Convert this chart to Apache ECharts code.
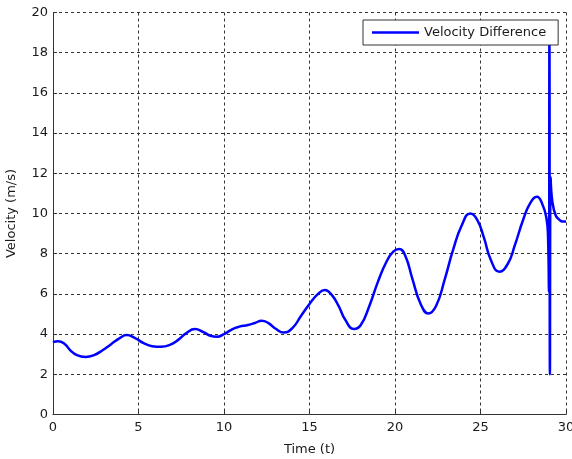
<!DOCTYPE html>
<html>
<head>
<meta charset="utf-8">
<script src="https://cdn.jsdelivr.net/npm/echarts@6/dist/echarts.min.js"></script>
<style>
html,body{margin:0;padding:0;background:#fff;}
#c{width:572px;height:459px;}
</style>
</head>
<body>
<div id="c"></div>
<script>
const seriesName = 'Velocity Difference';
const xTitle = 'Time (t)';
const yTitle = 'Velocity (m/s)';
const timeValues = [0,0.3,0.7,1.0,1.4,1.9,2.4,2.9,3.4,3.9,4.3,4.8,5.3,5.8,6.3,6.8,7.3,7.8,8.3,8.8,9.2,9.6,10.0,10.5,10.9,11.4,11.8,12.2,12.6,13.0,13.5,14.0,14.5,15.0,15.5,15.9,16.3,16.7,17.1,17.6,18.0,18.5,19.0,19.5,19.9,20.25,20.6,21.0,21.5,21.95,22.4,22.9,23.4,23.9,24.4,24.8,25.2,25.6,26.1,26.6,27.0,27.5,27.9,28.3,28.6,28.85,28.95,29.0,29.03,29.06,29.1,29.2,29.4,29.6,29.8,30];
const velocityValues = [3.6,3.65,3.5,3.2,2.95,2.86,2.95,3.2,3.5,3.8,3.95,3.8,3.55,3.4,3.37,3.45,3.7,4.05,4.25,4.1,3.92,3.87,4.0,4.25,4.37,4.45,4.55,4.67,4.55,4.28,4.08,4.3,4.9,5.5,6.0,6.2,5.95,5.4,4.7,4.25,4.45,5.4,6.6,7.6,8.1,8.23,7.9,6.8,5.5,5.03,5.4,6.7,8.2,9.4,10.0,9.7,8.8,7.7,7.1,7.5,8.4,9.7,10.5,10.83,10.5,9.8,8.8,6.1,19.5,2.0,11.8,10.6,9.9,9.7,9.6,9.6];
const xTicks = {min:0, max:30, interval:5};
const yTicks = {min:0, max:20, interval:2};

const font = 'DejaVu Sans';
const txt = '#1a1a1a';
const chart = echarts.init(document.getElementById('c'), null, {renderer:'canvas'});
chart.setOption({
  animation:false,
  backgroundColor:'#fff',
  grid:{left:53, right:6, top:12.5, bottom:44.5, containLabel:false, outerBoundsMode:'none'},
  legend:{
    show:true, left:363, top:20,
    data:[{name:seriesName, icon:'rect'}],
    backgroundColor:'#fff', borderColor:'#333', borderWidth:1,
    padding:[6,12,6,9], itemWidth:47, itemHeight:2.5, itemGap:4,
    textStyle:{fontFamily:font, fontSize:13, color:txt}
  },
  xAxis:{
    type:'value', min:xTicks.min, max:xTicks.max, interval:xTicks.interval,
    name:xTitle, nameLocation:'middle', nameGap:29,
    nameTextStyle:{fontFamily:font, fontSize:13, color:txt},
    axisLine:{show:true, onZero:false, lineStyle:{color:'#333', width:1}},
    axisTick:{show:true, inside:true, length:4, lineStyle:{color:'#333'}},
    axisLabel:{fontFamily:font, fontSize:13, color:txt, margin:7},
    splitLine:{show:true, lineStyle:{color:'#333', type:[3,3], width:1}}
  },
  yAxis:{
    type:'value', min:yTicks.min, max:yTicks.max, interval:yTicks.interval,
    name:yTitle, nameLocation:'middle', nameGap:35,
    nameTextStyle:{fontFamily:font, fontSize:13, color:txt},
    axisLine:{show:true, onZero:false, lineStyle:{color:'#333', width:1}},
    axisTick:{show:true, inside:true, length:4, lineStyle:{color:'#333'}},
    axisLabel:{fontFamily:font, fontSize:13, color:txt, margin:5},
    splitLine:{show:true, lineStyle:{color:'#333', type:[3,3], width:1}}
  },
  series:[{
    name:seriesName, type:'line', symbol:'none',
    smooth:0.5,
    data: timeValues.map((t,i)=>[t, velocityValues[i]]),
    lineStyle:{color:'#0000ff', width:2.5},
    itemStyle:{color:'#0000ff'}
  }]
});
</script>
</body>
</html>
